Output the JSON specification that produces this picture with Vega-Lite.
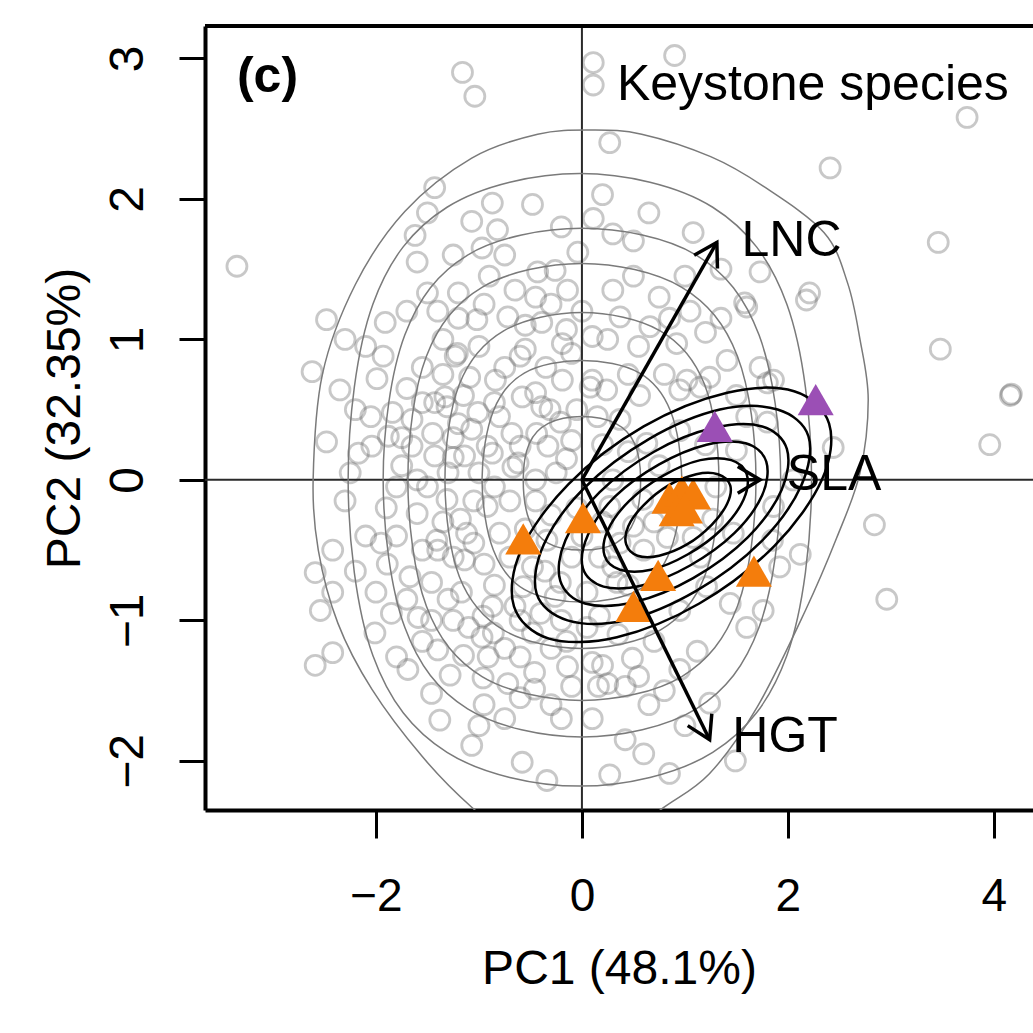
{
"$schema":"https://vega.github.io/schema/vega-lite/v6.json",
"width":828,"height":784,
"autosize":{"type":"none"},
"padding":{"left":205,"top":26,"right":0,"bottom":223},
"background":"white",
"config":{"view":{"stroke":null},"font":"Liberation Sans"},
"data":{"values":[{}]},
"datasets":{
"pts":[
{"x":-1.16,"y":2.90},{"x":-1.04,"y":2.73},{"x":0.11,"y":2.97},{"x":0.11,"y":2.81},{"x":0.90,"y":3.02},{"x":3.74,"y":2.58},{"x":2.41,"y":2.22},{"x":0.27,"y":2.40},{"x":-3.35,"y":1.52},{"x":3.46,"y":1.69},{"x":1.73,"y":1.48},{"x":1.08,"y":1.76},{"x":0.20,"y":2.03},{"x":0.11,"y":1.86},{"x":-0.04,"y":1.62},{"x":-1.43,"y":2.08},{"x":-1.50,"y":1.90},{"x":-1.62,"y":1.74},{"x":-1.07,"y":1.84},{"x":-0.87,"y":1.97},{"x":-0.82,"y":1.78},{"x":-0.48,"y":1.96},{"x":-0.97,"y":1.65},{"x":-0.43,"y":1.48},{"x":-0.26,"y":1.49},{"x":2.21,"y":1.33},{"x":1.58,"y":1.26},{"x":3.48,"y":0.93},{"x":4.16,"y":0.60},{"x":4.17,"y":0.61},{"x":3.96,"y":0.25},{"x":2.84,"y":-0.32},{"x":2.96,"y":-0.85},{"x":2.12,"y":-0.53},{"x":1.49,"y":-2.0},{"x":0.42,"y":-1.85},{"x":0.85,"y":-2.09},{"x":-0.34,"y":-2.14},{"x":-0.58,"y":-2.01},{"x":-1.07,"y":-1.89},{"x":1.86,"y":0.71},{"x":2.44,"y":0.23},{"x":1.60,"y":1.23},{"x":2.18,"y":1.28},{"x":0.66,"y":1.09},{"x":0.92,"y":0.97},{"x":1.15,"y":0.66},{"x":1.86,"y":-0.19},{"x":1.60,"y":-1.05},{"x":1.02,"y":0.71},{"x":0.37,"y":1.16},{"x":0.49,"y":-1.27},{"x":0.20,"y":-1.32},{"x":1.12,"y":-1.22},{"x":0.42,"y":-1.47},{"x":1.24,"y":-1.59},{"x":0.27,"y":-2.1},{"x":1.76,"y":-0.93},{"x":1.73,"y":0.80},{"x":1.41,"y":0.85},{"x":1.24,"y":0.73},{"x":1.80,"y":0.69},{"x":0.56,"y":0.60},
{"x":-2.42,"y":-0.50},{"x":-2.59,"y":-0.66},{"x":-2.42,"y":-0.80},{"x":-2.54,"y":-0.93},{"x":-2.59,"y":-1.32},{"x":-2.42,"y":-1.23},{"x":-1.89,"y":-0.60},{"x":-2.01,"y":-1.09},{"x":-1.80,"y":-1.26},{"x":-1.69,"y":-1.35},{"x":-1.67,"y":-0.69},{"x":-1.46,"y":-0.73},{"x":-1.46,"y":-1.00},{"x":-1.40,"y":-1.21},{"x":-1.46,"y":-1.52},{"x":-1.28,"y":-1.39},{"x":-1.17,"y":-0.80},{"x":-0.97,"y":-1.12},{"x":-0.96,"y":-1.41},{"x":-0.87,"y":-0.90},{"x":-0.91,"y":-1.26},{"x":-0.72,"y":-1.45},{"x":-0.60,"y":-1.26},{"x":-0.46,"y":-1.37},{"x":-0.46,"y":-1.49},{"x":-0.10,"y":-1.47},{"x":-0.14,"y":-1.33},{"x":0.10,"y":-1.30},{"x":0.16,"y":-1.47},{"x":-1.40,"y":-0.50},{"x":-1.14,"y":-0.57},{"x":-1.59,"y":-0.98},{"x":-0.57,"y":-0.76},{"x":-0.26,"y":-0.83},{"x":-0.36,"y":-0.65},{"x":-1.38,"y":-1.71},
{"x":-2.48,"y":1.14},{"x":-2.62,"y":0.77},{"x":-2.35,"y":0.64},{"x":-2.48,"y":0.27},{"x":-2.17,"y":0.19},{"x":-2.04,"y":0.24},{"x":-1.91,"y":1.12},{"x":-1.93,"y":0.88},{"x":-1.99,"y":0.72},{"x":-1.88,"y":0.31},{"x":-1.50,"y":1.33},{"x":-1.20,"y":1.33},{"x":-1.02,"y":1.14},{"x":-1.23,"y":0.88},{"x":-1.43,"y":0.55},{"x":-1.65,"y":0.43},{"x":-1.65,"y":0.24},{"x":-1.43,"y":0.17},{"x":-1.20,"y":0.40},{"x":-1.07,"y":0.36},{"x":-1.14,"y":0.17},{"x":-0.84,"y":0.71},{"x":-0.72,"y":1.16},{"x":-0.55,"y":0.93},{"x":-0.39,"y":1.12},{"x":-0.19,"y":0.97},{"x":-0.14,"y":1.35},{"x":0.10,"y":1.02},{"x":0.10,"y":0.71},{"x":-0.19,"y":0.71},{"x":-0.58,"y":0.59},{"x":-0.39,"y":0.52},{"x":-0.68,"y":0.33},{"x":-0.33,"y":0.24},{"x":-0.10,"y":0.28},{"x":-0.87,"y":0.19},{"x":-0.62,"y":0.12},{"x":-1.33,"y":0.59},{"x":-1.01,"y":0.48},{"x":-1.84,"y":0.48},
{"x":-1.21,"y":0.90},{"x":-1.09,"y":0.73},{"x":-0.60,"y":0.88},{"x":-0.45,"y":0.62},{"x":-0.15,"y":1.07},{"x":0.08,"y":0.66},{"x":-1.31,"y":0.52},{"x":-1.45,"y":0.33},{"x":-1.25,"y":0.30},{"x":-1.75,"y":0.10},{"x":-1.25,"y":0.16},{"x":-0.92,"y":0.24},{"x":-0.80,"y":0.45},{"x":-0.60,"y":0.24},{"x":-0.44,"y":0.33},{"x":-0.31,"y":0.50},{"x":-0.25,"y":0.05},{"x":-0.67,"y":0.09},{"x":-1.50,"y":-0.05},{"x":-1.31,"y":-0.14},{"x":-1.60,"y":-0.24},{"x":-1.18,"y":-0.28},{"x":-1.41,"y":-0.43},{"x":-1.12,"y":-0.38},{"x":-0.92,"y":-0.19},{"x":-0.80,"y":-0.38},{"x":-1.80,"y":-0.40},{"x":-1.25,"y":-1.00},{"x":-0.96,"y":-0.97},{"x":-0.86,"y":-1.09},{"x":-0.48,"y":-1.09},{"x":-0.21,"y":-0.73},{"x":-0.48,"y":-0.62},{"x":0.17,"y":-0.55},{"x":0.34,"y":-0.73},{"x":0.17,"y":-0.97},{"x":0.50,"y":-0.33},{"x":0.27,"y":-0.19},{"x":0.59,"y":-0.14},
{"x":0.37,"y":-0.45},{"x":0.60,"y":-0.50},{"x":0.30,"y":-0.62},{"x":0.45,"y":-0.75},{"x":0.83,"y":-0.41},{"x":1.08,"y":-0.41},{"x":1.27,"y":-0.28},{"x":1.47,"y":-0.38},{"x":1.85,"y":-0.43},{"x":2.05,"y":0.0},{"x":-0.10,"y":-0.55},{"x":-0.34,"y":-0.43},{"x":1.21,"y":-0.76},{"x":1.44,"y":-0.88},{"x":0.05,"y":-0.80},{"x":0.95,"y":-0.93},{"x":-0.45,"y":0.0},{"x":-0.21,"y":0.41},{"x":0.37,"y":0.43},{"x":0.63,"y":0.26},{"x":0.95,"y":0.64},{"x":0.24,"y":0.64},{"x":1.50,"y":0.21},{"x":1.80,"y":0.41},{"x":1.92,"y":-0.62},
{"x":0.5,"y":1.45},{"x":0.75,"y":1.30},{"x":1.0,"y":1.45},{"x":1.2,"y":1.05},{"x":0.3,"y":1.35},{"x":0.55,"y":0.95},{"x":0.8,"y":0.75},{"x":0.45,"y":0.2},{"x":0.75,"y":0.1},{"x":1.2,"y":0.25},{"x":0.3,"y":1.75},{"x":0.65,"y":1.9},{"x":1.35,"y":1.5},{"x":1.6,"y":0.45},
{"x":-0.2,"y":-1.0},{"x":-0.3,"y":-1.2},{"x":0.35,"y":-1.1},{"x":0.7,"y":-1.15},{"x":0.95,"y":-1.35},{"x":0.65,"y":-1.6},{"x":0.1,"y":-1.7},{"x":-0.2,"y":-1.7},{"x":-0.75,"y":-1.7},{"x":0.6,"y":-1.95},{"x":1.0,"y":-1.75},{"x":-0.95,"y":-1.6},
{"x":-1.7,"y":0.65},{"x":-1.55,"y":0.8},{"x":-1.35,"y":1.0},{"x":-1.0,"y":0.95},{"x":-0.85,"y":0.55},{"x":-1.0,"y":0.05},{"x":-1.25,"y":-0.55},{"x":-0.95,"y":-0.6},{"x":-0.7,"y":-0.15},{"x":-0.7,"y":-0.55},{"x":-1.55,"y":-0.5},{"x":-1.9,"y":-0.2},{"x":-2.1,"y":-0.4},{"x":-2.2,"y":0.5},{"x":-2.0,"y":-0.8},{"x":-1.2,"y":1.15},{"x":-0.65,"y":1.35},{"x":-0.9,"y":1.45},{"x":-1.7,"y":1.2},{"x":-0.35,"y":0.8},{"x":-0.05,"y":0.5},{"x":-0.3,"y":-0.25},{"x":-0.55,"y":-0.35},{"x":-1.05,"y":-0.15},{"x":-1.35,"y":0.75},{"x":-0.45,"y":1.3},{"x":0.2,"y":0.25},{"x":0.0,"y":-0.4},{"x":-0.1,"y":0.9},{"x":-1.8,"y":-0.05},{"x":-2.3,"y":-0.15},{"x":-1.6,"y":1.55},{"x":-0.6,"y":-1.0},{"x":-1.3,"y":-0.85},{"x":-0.75,"y":-1.2},{"x":-1.15,"y":-1.25},{"x":-0.3,"y":-1.6},{"x":1.15,"y":-0.55},{"x":0.7,"y":-0.3},{"x":1.3,"y":-0.05},{"x":0.3,"y":0.0},
{"x":-1.6,"y":0.0},{"x":-1.35,"y":-0.3},{"x":-1.05,"y":-0.45},{"x":-0.85,"y":-0.75},{"x":-0.65,"y":-0.9},{"x":-0.4,"y":-0.95},{"x":-0.15,"y":-1.15},{"x":0.05,"y":-1.05},{"x":0.25,"y":-1.45},{"x":0.55,"y":-1.4},{"x":0.8,"y":-1.5},{"x":-0.6,"y":-1.55},{"x":-1.1,"y":-1.05},{"x":-1.55,"y":-1.15},{"x":-1.85,"y":-0.95},{"x":-2.2,"y":-0.65},{"x":-2.25,"y":0.05},{"x":-2.05,"y":0.45},{"x":-1.55,"y":0.55},{"x":-1.15,"y":0.6},{"x":-0.75,"y":0.8},{"x":-0.55,"y":1.1},{"x":-0.3,"y":1.25},{"x":0.0,"y":1.2},{"x":0.25,"y":1.0},{"x":0.45,"y":0.75},{"x":0.15,"y":0.45},{"x":-0.15,"y":0.15},{"x":-0.45,"y":-0.15},{"x":-0.85,"y":-0.05},{"x":-1.3,"y":0.05},{"x":-1.75,"y":0.3},{"x":-1.95,"y":-0.45},{"x":-1.7,"y":-0.85},{"x":0.85,"y":1.15},{"x":1.05,"y":1.2},{"x":1.35,"y":1.15},{"x":1.5,"y":0.6},{"x":0.95,"y":0.35},{"x":0.2,"y":-0.3},{"x":-0.05,"y":-0.2},{"x":-0.95,"y":1.25},{"x":-1.4,"y":1.2},{"x":-0.75,"y":1.6},{"x":-0.2,"y":1.8},{"x":0.5,"y":1.7},{"x":-1.25,"y":1.6},{"x":-2.1,"y":0.95},{"x":-2.3,"y":1.0},{"x":-1.0,"y":-1.75}
],
"grey":[
{"c":"G1","i":0,"x":-2.61,"y":0.0},{"c":"G1","i":1,"x":-2.52,"y":0.75},{"c":"G1","i":2,"x":-2.2,"y":1.39},{"c":"G1","i":3,"x":-1.72,"y":1.91},{"c":"G1","i":4,"x":-1.07,"y":2.29},{"c":"G1","i":5,"x":-0.43,"y":2.46},{"c":"G1","i":6,"x":0.1,"y":2.49},{"c":"G1","i":7,"x":0.58,"y":2.46},{"c":"G1","i":8,"x":1.25,"y":2.30},{"c":"G1","i":9,"x":1.76,"y":2.09},{"c":"G1","i":10,"x":2.35,"y":1.76},{"c":"G1","i":11,"x":2.58,"y":1.40},{"c":"G1","i":12,"x":2.70,"y":1.0},{"c":"G1","i":13,"x":2.78,"y":0.57},{"c":"G1","i":14,"x":2.70,"y":0.05},{"c":"G1","i":15,"x":2.47,"y":-0.42},{"c":"G1","i":16,"x":2.17,"y":-0.93},{"c":"G1","i":17,"x":1.70,"y":-1.62},{"c":"G1","i":18,"x":1.24,"y":-2.09},{"c":"G1","i":19,"x":0.76,"y":-2.35},{"c":"G1","i":20,"x":0.1,"y":-2.7},{"c":"G1","i":21,"x":-0.5,"y":-2.65},{"c":"G1","i":22,"x":-1.07,"y":-2.33},{"c":"G1","i":23,"x":-1.55,"y":-1.97},{"c":"G1","i":24,"x":-2.04,"y":-1.49},{"c":"G1","i":25,"x":-2.37,"y":-1.02},{"c":"G1","i":26,"x":-2.56,"y":-0.5},
{"c":"G2","i":0,"x":2.23,"y":0},{"c":"G2","i":1,"x":1.99,"y":1.25},{"c":"G2","i":2,"x":1.27,"y":1.94},{"c":"G2","i":3,"x":-0.02,"y":2.18},{"c":"G2","i":4,"x":-1.31,"y":1.94},{"c":"G2","i":5,"x":-2.03,"y":1.25},{"c":"G2","i":6,"x":-2.27,"y":0},{"c":"G2","i":7,"x":-2.03,"y":-1.25},{"c":"G2","i":8,"x":-1.31,"y":-1.94},{"c":"G2","i":9,"x":-0.02,"y":-2.18},{"c":"G2","i":10,"x":1.27,"y":-1.94},{"c":"G2","i":11,"x":1.99,"y":-1.25},
{"c":"G3","i":0,"x":1.93,"y":0},{"c":"G3","i":1,"x":1.72,"y":1.03},{"c":"G3","i":2,"x":1.11,"y":1.60},{"c":"G3","i":3,"x":0,"y":1.79},{"c":"G3","i":4,"x":-1.11,"y":1.60},{"c":"G3","i":5,"x":-1.72,"y":1.03},{"c":"G3","i":6,"x":-1.93,"y":0},{"c":"G3","i":7,"x":-1.72,"y":-1.05},{"c":"G3","i":8,"x":-1.11,"y":-1.63},{"c":"G3","i":9,"x":0,"y":-1.83},{"c":"G3","i":10,"x":1.11,"y":-1.63},{"c":"G3","i":11,"x":1.72,"y":-1.05},
{"c":"G4","i":0,"x":1.69,"y":0},{"c":"G4","i":1,"x":1.51,"y":0.88},{"c":"G4","i":2,"x":0.97,"y":1.37},{"c":"G4","i":3,"x":0,"y":1.54},{"c":"G4","i":4,"x":-0.97,"y":1.37},{"c":"G4","i":5,"x":-1.51,"y":0.88},{"c":"G4","i":6,"x":-1.69,"y":0},{"c":"G4","i":7,"x":-1.51,"y":-0.90},{"c":"G4","i":8,"x":-0.97,"y":-1.40},{"c":"G4","i":9,"x":0,"y":-1.57},{"c":"G4","i":10,"x":0.97,"y":-1.40},{"c":"G4","i":11,"x":1.51,"y":-0.90},
{"c":"G5","i":0,"x":1.33,"y":0},{"c":"G5","i":1,"x":1.19,"y":0.68},{"c":"G5","i":2,"x":0.76,"y":1.06},{"c":"G5","i":3,"x":0,"y":1.19},{"c":"G5","i":4,"x":-0.76,"y":1.06},{"c":"G5","i":5,"x":-1.19,"y":0.68},{"c":"G5","i":6,"x":-1.33,"y":0},{"c":"G5","i":7,"x":-1.19,"y":-0.69},{"c":"G5","i":8,"x":-0.76,"y":-1.07},{"c":"G5","i":9,"x":0,"y":-1.2},{"c":"G5","i":10,"x":0.76,"y":-1.07},{"c":"G5","i":11,"x":1.19,"y":-0.69},
{"c":"G6","i":0,"x":0.97,"y":0},{"c":"G6","i":1,"x":0.86,"y":0.49},{"c":"G6","i":2,"x":0.56,"y":0.76},{"c":"G6","i":3,"x":0,"y":0.85},{"c":"G6","i":4,"x":-0.56,"y":0.76},{"c":"G6","i":5,"x":-0.86,"y":0.49},{"c":"G6","i":6,"x":-0.97,"y":0},{"c":"G6","i":7,"x":-0.86,"y":-0.50},{"c":"G6","i":8,"x":-0.56,"y":-0.78},{"c":"G6","i":9,"x":0,"y":-0.87},{"c":"G6","i":10,"x":0.56,"y":-0.78},{"c":"G6","i":11,"x":0.86,"y":-0.50},
{"c":"G7","i":0,"x":0.57,"y":0},{"c":"G7","i":1,"x":0.51,"y":0.26},{"c":"G7","i":2,"x":0.33,"y":0.40},{"c":"G7","i":3,"x":0,"y":0.45},{"c":"G7","i":4,"x":-0.33,"y":0.40},{"c":"G7","i":5,"x":-0.51,"y":0.26},{"c":"G7","i":6,"x":-0.57,"y":0},{"c":"G7","i":7,"x":-0.51,"y":-0.29},{"c":"G7","i":8,"x":-0.33,"y":-0.45},{"c":"G7","i":9,"x":0,"y":-0.5},{"c":"G7","i":10,"x":0.33,"y":-0.45},{"c":"G7","i":11,"x":0.51,"y":-0.29}
],
"black":[
{"c":"K1","i":0,"x":2.40,"y":0.40},{"c":"K1","i":1,"x":2.06,"y":0.63},{"c":"K1","i":2,"x":1.41,"y":0.62},{"c":"K1","i":3,"x":0.60,"y":0.38},{"c":"K1","i":4,"x":-0.13,"y":-0.03},{"c":"K1","i":5,"x":-0.59,"y":-0.50},{"c":"K1","i":6,"x":-0.66,"y":-0.90},{"c":"K1","i":7,"x":-0.32,"y":-1.13},{"c":"K1","i":8,"x":0.34,"y":-1.12},{"c":"K1","i":9,"x":1.14,"y":-0.88},{"c":"K1","i":10,"x":1.87,"y":-0.47},{"c":"K1","i":11,"x":2.33,"y":0.00},
{"c":"K2","i":0,"x":2.20,"y":0.31},{"c":"K2","i":1,"x":1.90,"y":0.50},{"c":"K2","i":2,"x":1.34,"y":0.50},{"c":"K2","i":3,"x":0.65,"y":0.29},{"c":"K2","i":4,"x":0.02,"y":-0.06},{"c":"K2","i":5,"x":-0.37,"y":-0.46},{"c":"K2","i":6,"x":-0.44,"y":-0.81},{"c":"K2","i":7,"x":-0.14,"y":-1.00},{"c":"K2","i":8,"x":0.42,"y":-1.00},{"c":"K2","i":9,"x":1.11,"y":-0.79},{"c":"K2","i":10,"x":1.74,"y":-0.44},{"c":"K2","i":11,"x":2.13,"y":-0.04},
{"c":"K3","i":0,"x":1.99,"y":0.22},{"c":"K3","i":1,"x":1.75,"y":0.38},{"c":"K3","i":2,"x":1.28,"y":0.37},{"c":"K3","i":3,"x":0.70,"y":0.20},{"c":"K3","i":4,"x":0.17,"y":-0.09},{"c":"K3","i":5,"x":-0.16,"y":-0.43},{"c":"K3","i":6,"x":-0.21,"y":-0.72},{"c":"K3","i":7,"x":0.03,"y":-0.88},{"c":"K3","i":8,"x":0.51,"y":-0.87},{"c":"K3","i":9,"x":1.08,"y":-0.70},{"c":"K3","i":10,"x":1.61,"y":-0.41},{"c":"K3","i":11,"x":1.94,"y":-0.07},
{"c":"K4","i":0,"x":1.79,"y":0.13},{"c":"K4","i":1,"x":1.59,"y":0.26},{"c":"K4","i":2,"x":1.21,"y":0.25},{"c":"K4","i":3,"x":0.75,"y":0.11},{"c":"K4","i":4,"x":0.32,"y":-0.12},{"c":"K4","i":5,"x":0.06,"y":-0.39},{"c":"K4","i":6,"x":0.01,"y":-0.63},{"c":"K4","i":7,"x":0.21,"y":-0.76},{"c":"K4","i":8,"x":0.59,"y":-0.75},{"c":"K4","i":9,"x":1.05,"y":-0.61},{"c":"K4","i":10,"x":1.48,"y":-0.38},{"c":"K4","i":11,"x":1.75,"y":-0.11},
{"c":"K5","i":0,"x":1.60,"y":0.04},{"c":"K5","i":1,"x":1.45,"y":0.14},{"c":"K5","i":2,"x":1.15,"y":0.14},{"c":"K5","i":3,"x":0.79,"y":0.03},{"c":"K5","i":4,"x":0.46,"y":-0.15},{"c":"K5","i":5,"x":0.25,"y":-0.36},{"c":"K5","i":6,"x":0.22,"y":-0.54},{"c":"K5","i":7,"x":0.37,"y":-0.64},{"c":"K5","i":8,"x":0.67,"y":-0.64},{"c":"K5","i":9,"x":1.03,"y":-0.53},{"c":"K5","i":10,"x":1.36,"y":-0.35},{"c":"K5","i":11,"x":1.57,"y":-0.14},
{"c":"K6","i":0,"x":1.44,"y":-0.04},{"c":"K6","i":1,"x":1.32,"y":0.04},{"c":"K6","i":2,"x":1.11,"y":0.04},{"c":"K6","i":3,"x":0.84,"y":-0.04},{"c":"K6","i":4,"x":0.60,"y":-0.18},{"c":"K6","i":5,"x":0.45,"y":-0.33},{"c":"K6","i":6,"x":0.43,"y":-0.46},{"c":"K6","i":7,"x":0.54,"y":-0.54},{"c":"K6","i":8,"x":0.75,"y":-0.54},{"c":"K6","i":9,"x":1.02,"y":-0.46},{"c":"K6","i":10,"x":1.26,"y":-0.32},{"c":"K6","i":11,"x":1.41,"y":-0.17}
],
"tri":[
{"g":"other","x":-0.57,"y":-0.42},{"g":"other","x":0.01,"y":-0.27},{"g":"other","x":0.85,"y":-0.13},{"g":"other","x":0.97,"y":-0.08},{"g":"other","x":1.08,"y":-0.10},{"g":"other","x":0.92,"y":-0.22},{"g":"other","x":1.0,"y":-0.2},{"g":"other","x":0.74,"y":-0.68},{"g":"other","x":0.50,"y":-0.90},{"g":"other","x":1.67,"y":-0.65},
{"g":"high","x":1.29,"y":0.38},{"g":"high","x":2.27,"y":0.57}
],
"arrows":[
{"name":"LNC","ox":0,"oy":0,"x":1.31,"y":1.69},
{"name":"SLA","ox":0,"oy":0,"x":1.73,"y":0},
{"name":"HGT","ox":0,"oy":0,"x":1.24,"y":-1.85}
],
"labels":[
{"label":"LNC","x":1.55,"y":1.59},
{"label":"SLA","x":1.99,"y":-0.07},
{"label":"HGT","x":1.46,"y":-1.94}
]
},
"layer":[
{"data":{"name":"pts"},
 "mark":{"type":"point","shape":"circle","size":400,"filled":false,"stroke":"#555555","strokeOpacity":0.45,"strokeWidth":2.8,"clip":true},
 "encoding":{
  "x":{"field":"x","type":"quantitative","scale":{"domain":[-3.66,4.38],"nice":false,"zero":false},
   "axis":{"values":[-2,0,2,4],"format":"d","title":"PC1 (48.1%)","grid":false,"domain":true,"domainColor":"black","domainWidth":4,"ticks":true,"tickColor":"black","tickWidth":3,"tickSize":28,"labelFontSize":46,"labelFont":"Liberation Sans","labelColor":"black","labelPadding":72,"labelBaseline":"alphabetic","labelFlush":false,"labelOverlap":false,"titleFontSize":48,"titleFont":"Liberation Sans","titleFontWeight":"normal","titleColor":"black","titleBaseline":"alphabetic","titleY":173}},
  "y":{"field":"y","type":"quantitative","scale":{"domain":[-2.35,3.23],"nice":false,"zero":false},
   "axis":{"values":[-2,-1,0,1,2,3],"format":"d","title":"PC2 (32.35%)","grid":false,"domain":true,"domainColor":"black","domainWidth":4,"ticks":true,"tickColor":"black","tickWidth":3,"tickSize":26,"labelFontSize":48,"labelFont":"Liberation Sans","labelColor":"black","labelAngle":270,"labelAlign":"center","labelBaseline":"alphabetic","labelPadding":37,"labelFlush":false,"labelOverlap":false,"titleFontSize":48,"titleFont":"Liberation Sans","titleFontWeight":"normal","titleColor":"black","titleAngle":270,"titleAlign":"center","titleBaseline":"alphabetic","titleX":-126,"titleY":392}}
 }},
{"mark":{"type":"rule","color":"#2a2a2a","strokeWidth":2},
 "encoding":{"y":{"datum":0,"type":"quantitative","scale":{"domain":[-2.35,3.23],"nice":false,"zero":false}}}},
{"mark":{"type":"rule","color":"#2a2a2a","strokeWidth":2},
 "encoding":{"x":{"datum":0,"type":"quantitative","scale":{"domain":[-3.66,4.38],"nice":false,"zero":false}}}},
{"data":{"name":"grey"},
 "mark":{"type":"line","interpolate":"cardinal-closed","clip":true,"color":"#7a7a7a","strokeWidth":1.5},
 "encoding":{
  "x":{"field":"x","type":"quantitative","scale":{"domain":[-3.66,4.38],"nice":false,"zero":false}},
  "y":{"field":"y","type":"quantitative","scale":{"domain":[-2.35,3.23],"nice":false,"zero":false}},
  "detail":{"field":"c"},"order":{"field":"i","type":"quantitative"}}},
{"data":{"name":"black"},
 "mark":{"type":"line","interpolate":"cardinal-closed","clip":true,"color":"black","strokeWidth":2.5},
 "encoding":{
  "x":{"field":"x","type":"quantitative","scale":{"domain":[-3.66,4.38],"nice":false,"zero":false}},
  "y":{"field":"y","type":"quantitative","scale":{"domain":[-2.35,3.23],"nice":false,"zero":false}},
  "detail":{"field":"c"},"order":{"field":"i","type":"quantitative"}}},
{"data":{"name":"tri"},
 "mark":{"type":"point","shape":"triangle-up","filled":true,"size":1300,"opacity":1,"clip":true},
 "encoding":{
  "x":{"field":"x","type":"quantitative","scale":{"domain":[-3.66,4.38],"nice":false,"zero":false}},
  "y":{"field":"y","type":"quantitative","scale":{"domain":[-2.35,3.23],"nice":false,"zero":false}},
  "color":{"field":"g","type":"nominal","scale":{"domain":["other","high"],"range":["#f47d0c","#9b4fb5"]},"legend":null}}},
{"data":{"name":"arrows"},
 "mark":{"type":"rule","color":"black","strokeWidth":3.5},
 "encoding":{
  "x":{"field":"ox","type":"quantitative","scale":{"domain":[-3.66,4.38],"nice":false,"zero":false}},
  "y":{"field":"oy","type":"quantitative","scale":{"domain":[-2.35,3.23],"nice":false,"zero":false}},
  "x2":{"field":"x"},"y2":{"field":"y"}}},
{"data":{"name":"arrows"},"transform":[{"filter":"datum.name === 'LNC'"}],
 "mark":{"type":"point","shape":"M-0.6,1L0,0L0.6,1","size":2000,"angle":29.6,"filled":false,"stroke":"black","strokeWidth":3.5,"opacity":1},
 "encoding":{
  "x":{"field":"x","type":"quantitative","scale":{"domain":[-3.66,4.38],"nice":false,"zero":false}},
  "y":{"field":"y","type":"quantitative","scale":{"domain":[-2.35,3.23],"nice":false,"zero":false}}}},
{"data":{"name":"arrows"},"transform":[{"filter":"datum.name === 'SLA'"}],
 "mark":{"type":"point","shape":"M-0.6,1L0,0L0.6,1","size":2000,"angle":90,"filled":false,"stroke":"black","strokeWidth":3.5,"opacity":1},
 "encoding":{
  "x":{"field":"x","type":"quantitative","scale":{"domain":[-3.66,4.38],"nice":false,"zero":false}},
  "y":{"field":"y","type":"quantitative","scale":{"domain":[-2.35,3.23],"nice":false,"zero":false}}}},
{"data":{"name":"arrows"},"transform":[{"filter":"datum.name === 'HGT'"}],
 "mark":{"type":"point","shape":"M-0.6,1L0,0L0.6,1","size":2000,"angle":153.8,"filled":false,"stroke":"black","strokeWidth":3.5,"opacity":1},
 "encoding":{
  "x":{"field":"x","type":"quantitative","scale":{"domain":[-3.66,4.38],"nice":false,"zero":false}},
  "y":{"field":"y","type":"quantitative","scale":{"domain":[-2.35,3.23],"nice":false,"zero":false}}}},
{"data":{"name":"labels"},
 "mark":{"type":"text","align":"left","baseline":"alphabetic","fontSize":50,"font":"Liberation Sans","color":"black"},
 "encoding":{
  "x":{"field":"x","type":"quantitative","scale":{"domain":[-3.66,4.38],"nice":false,"zero":false}},
  "y":{"field":"y","type":"quantitative","scale":{"domain":[-2.35,3.23],"nice":false,"zero":false}},
  "text":{"field":"label"}}},
{"mark":{"type":"text","align":"left","baseline":"middle","fontSize":50,"fontWeight":"bold","font":"Liberation Sans","color":"black","text":"(c)"},
 "encoding":{
  "x":{"datum":-3.35,"type":"quantitative","scale":{"domain":[-3.66,4.38],"nice":false,"zero":false}},
  "y":{"datum":2.87,"type":"quantitative","scale":{"domain":[-2.35,3.23],"nice":false,"zero":false}}}},
{"mark":{"type":"text","align":"left","baseline":"alphabetic","fontSize":50,"font":"Liberation Sans","color":"black","text":"Keystone species"},
 "encoding":{
  "x":{"datum":0.34,"type":"quantitative","scale":{"domain":[-3.66,4.38],"nice":false,"zero":false}},
  "y":{"datum":2.70,"type":"quantitative","scale":{"domain":[-2.35,3.23],"nice":false,"zero":false}}}},
{"mark":{"type":"rule","color":"black","strokeWidth":4,"clip":false},
 "encoding":{"y":{"datum":3.23,"type":"quantitative","scale":{"domain":[-2.35,3.23],"nice":false,"zero":false}}}}
]
}
